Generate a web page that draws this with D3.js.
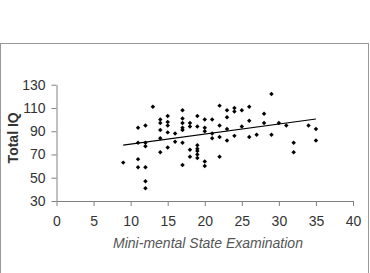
<!DOCTYPE html>
<html>
<head>
<meta charset="utf-8">
<script src="https://cdn.jsdelivr.net/npm/d3@7"></script>
<style>
  body { margin: 0; background: #fff; }
  svg { display: block; }
  .axis text { font-family: "Liberation Sans", Arial, sans-serif; font-size: 14px; fill: #333; }
  .axis path, .axis line { stroke: #808080; }
</style>
</head>
<body>
<div id="chart"></div>
<script>
// MMSE score (x) and total IQ (y) for each subject
const mmse = [13, 17, 11, 12, 14, 14, 15, 15, 15, 14, 17, 17, 17, 17, 18, 18, 19, 19,
  15, 16, 14, 11, 12, 12, 15, 16, 17, 14, 18, 18, 19, 19, 19, 19, 19,
  9, 11, 11, 12, 17, 12, 12,
  20, 20, 20, 20, 20, 21, 21, 21, 22, 22, 22, 22, 23, 23, 23, 23, 24, 24, 24,
  25, 25, 26, 26, 26, 27, 28, 28, 29, 29, 30, 31, 32, 32, 34, 35, 35]
const iq = [111, 108, 93, 95, 100, 97, 103, 98, 95, 91, 101, 97, 93, 91, 97, 94, 103, 94,
  89, 88, 84, 80, 80, 77, 76, 81, 80, 72, 74, 68, 78, 75, 73, 70, 67,
  63, 66, 59, 59, 61, 47, 41,
  100, 93, 90, 64, 60, 100, 88, 84, 112, 95, 85, 68, 108, 102, 92, 82, 110, 107, 86,
  108, 94, 111, 99, 85, 87, 105, 97, 122, 87, 97, 95, 80, 72, 95, 92, 82]

// linear trend line end points
const trendX = [9, 35]
const trendY = [78, 100.5]

const xTicks = [0, 5, 10, 15, 20, 25, 30, 35, 40]
const yTicks = [30, 50, 70, 90, 110, 130]

const W = 370, H = 273

const svg = d3.select('#chart').append('svg')
    .attr('width', W)
    .attr('height', H)

// chart area frame
svg.append('rect')
    .attr('x', 0.5).attr('y', 43.5)
    .attr('width', 368).attr('height', 260)
    .attr('fill', 'none')
    .attr('stroke', '#999')

const x = d3.scaleLinear().domain([0, 40]).range([56.5, 353])
const y = d3.scaleLinear().domain([30, 130]).range([201, 84.7])

svg.append('g')
    .attr('class', 'axis')
    .attr('transform', `translate(0,${y(30)})`)
    .call(d3.axisBottom(x).tickValues(xTicks).tickSize(5).tickPadding(10).tickSizeOuter(0))

svg.append('g')
    .attr('class', 'axis')
    .attr('transform', `translate(${x(0)},0)`)
    .call(d3.axisLeft(y).tickValues(yTicks).tickSize(5).tickPadding(6).tickSizeOuter(0))

const pts = mmse.map((m, i) => ({ m: m, q: iq[i] }))

svg.append('g').selectAll('path').data(pts)
    .enter()
    .append('path')
    .attr('d', d3.symbol(d3.symbolSquare, 10))
    .attr('transform', d => `translate(${x(d.m)},${y(d.q)}) rotate(45)`)
    .attr('fill', '#000')

svg.append('line')
    .attr('x1', x(trendX[0])).attr('y1', y(trendY[0]))
    .attr('x2', x(trendX[1])).attr('y2', y(trendY[1]))
    .attr('stroke', '#000')
    .attr('stroke-width', 1.2)

svg.append('text')
    .attr('transform', `translate(18,${(y(30) + y(130)) / 2 - 5}) rotate(-90)`)
    .attr('text-anchor', 'middle')
    .attr('font-family', '"Liberation Sans", Arial, sans-serif')
    .attr('font-size', 14)
    .attr('font-weight', 'bold')
    .attr('fill', '#333')
    .text('Total IQ')

svg.append('text')
    .attr('x', 208).attr('y', 248)
    .attr('text-anchor', 'middle')
    .attr('font-family', '"Liberation Sans", Arial, sans-serif')
    .attr('font-size', 14)
    .attr('font-style', 'italic')
    .attr('fill', '#555')
    .text('Mini-mental State Examination')
</script>
</body>
</html>
